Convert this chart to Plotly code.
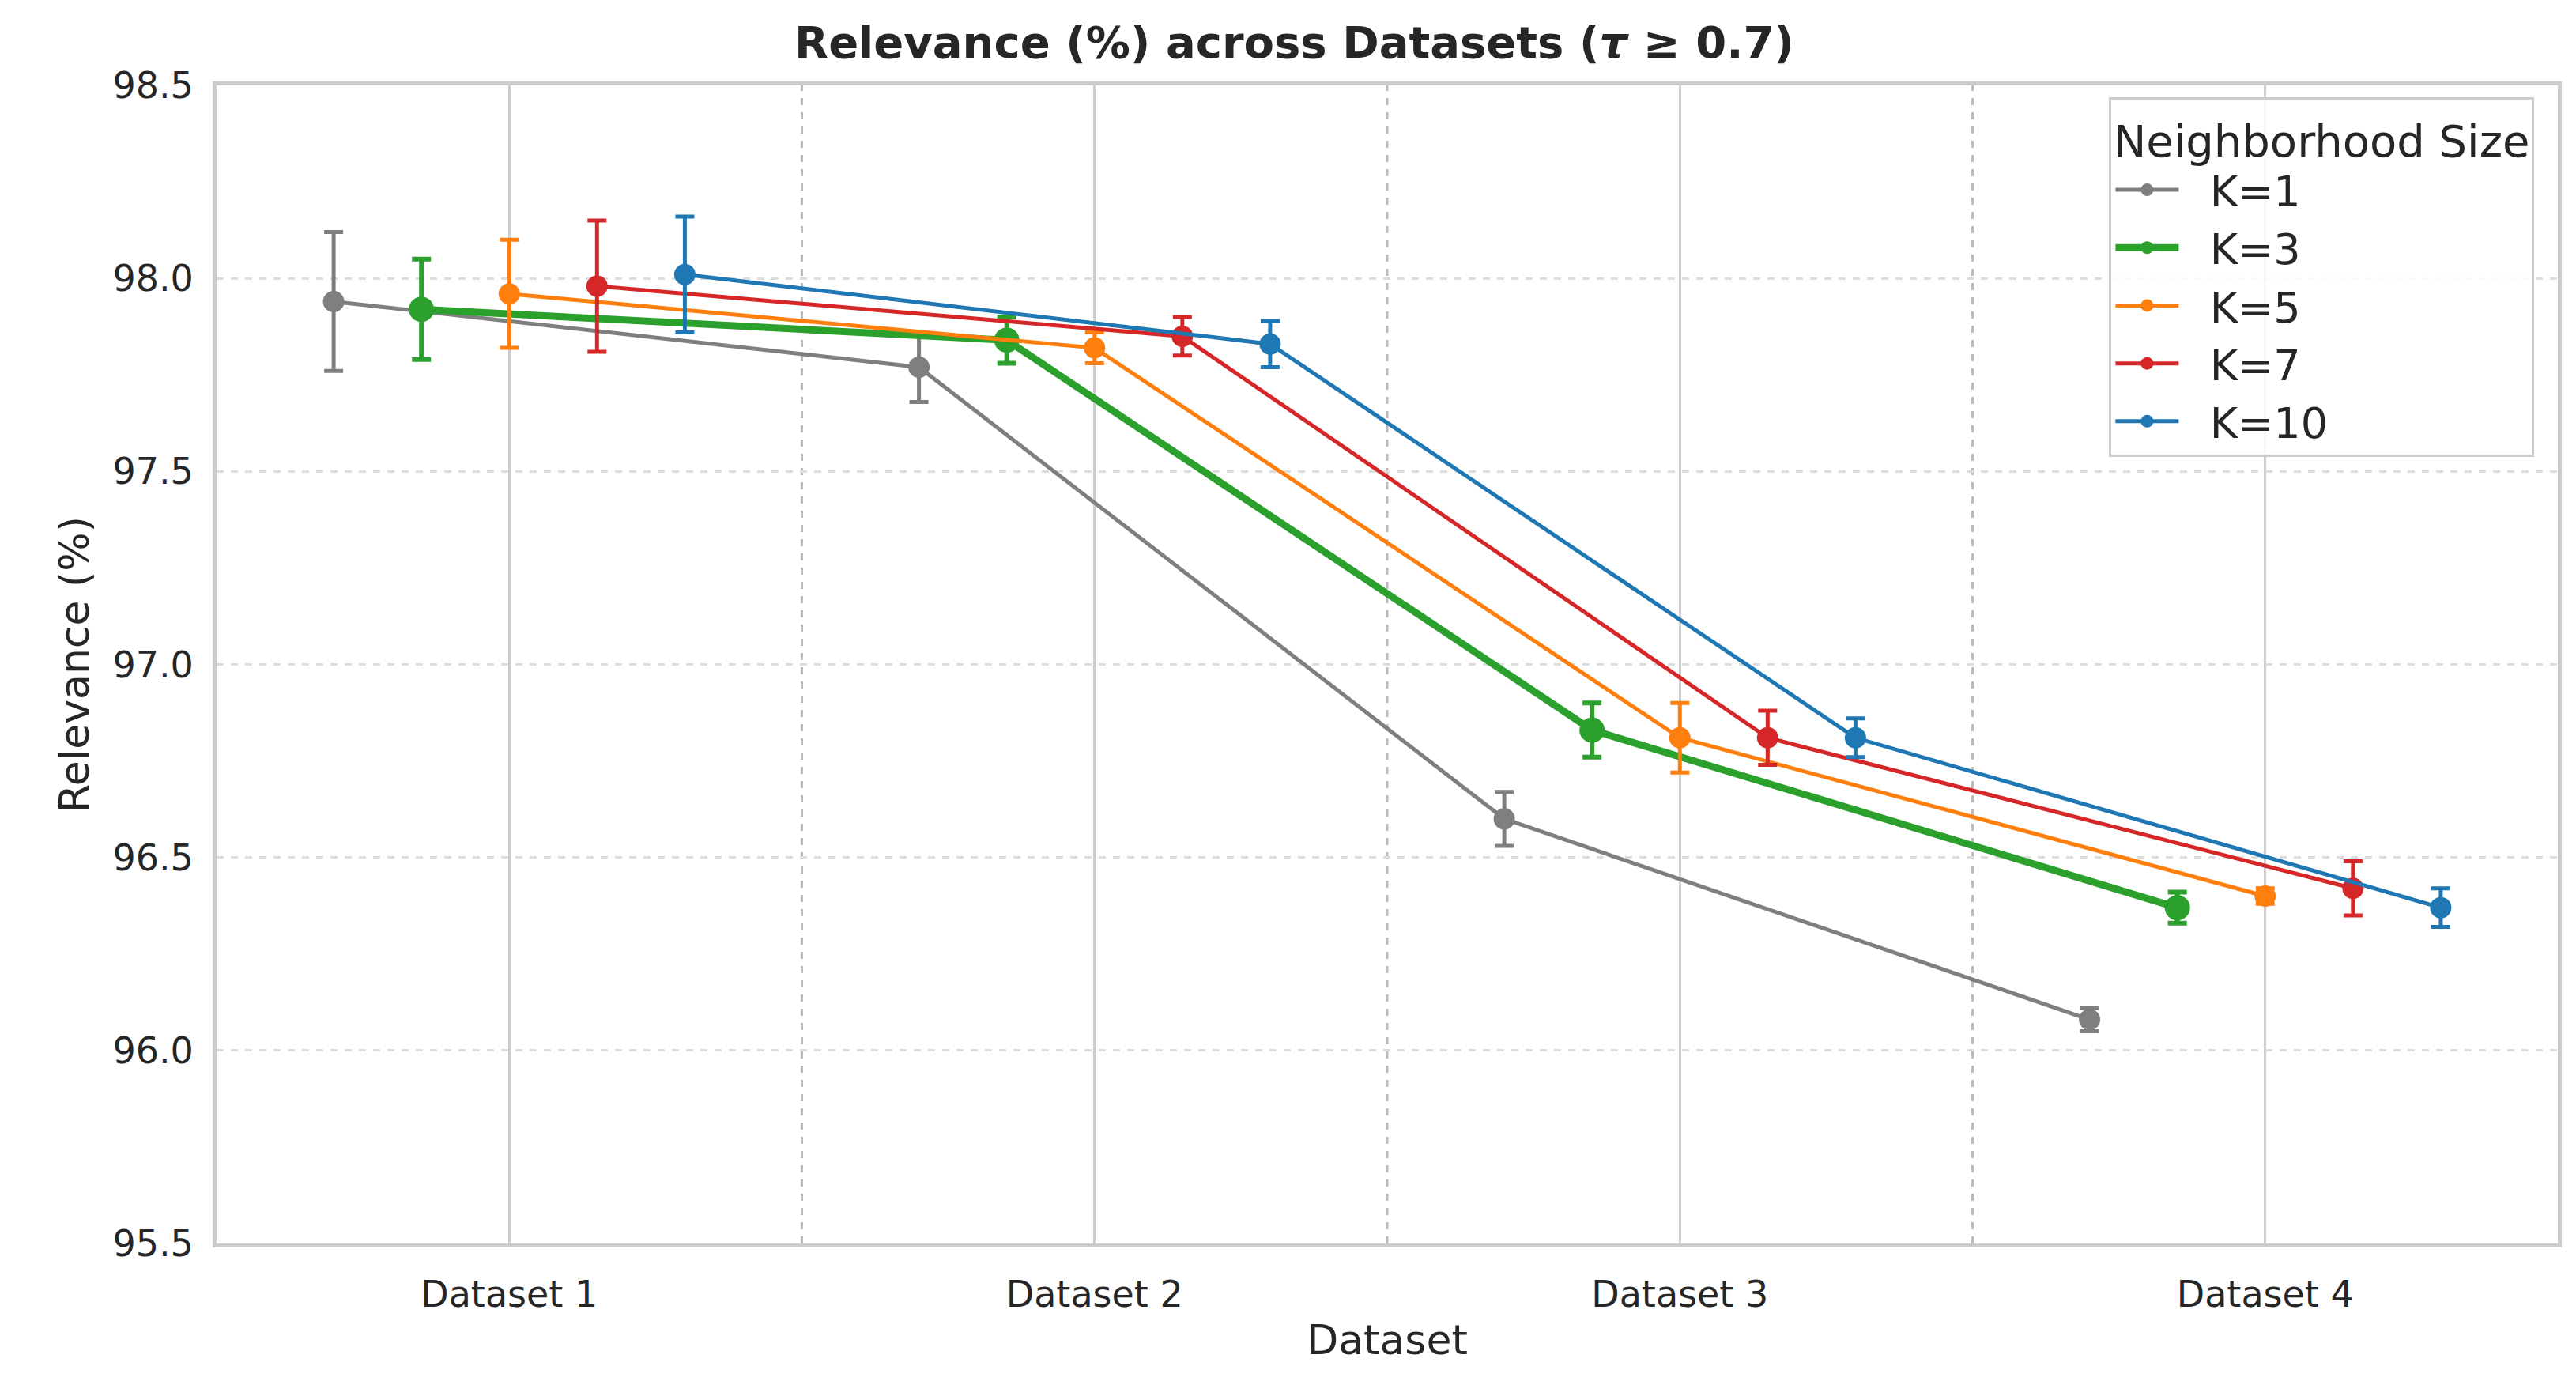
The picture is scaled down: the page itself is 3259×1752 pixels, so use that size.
import plotly.graph_objects as go

datasets = ["Dataset 1", "Dataset 2", "Dataset 3", "Dataset 4"]
k_labels = ["K=1", "K=3", "K=5", "K=7", "K=10"]
colors = ["#7f7f7f", "#2ca02c", "#ff7f0e", "#d62728", "#1f77b4"]
offsets = [-0.3, -0.15, 0.0, 0.15, 0.3]

relevance = [
    [97.94, 97.77, 96.60, 96.08],
    [97.92, 97.84, 96.83, 96.37],
    [97.96, 97.82, 96.81, 96.40],
    [97.98, 97.85, 96.81, 96.42],
    [98.01, 97.83, 96.81, 96.37],
]
errors = [
    [0.18, 0.09, 0.07, 0.03],
    [0.13, 0.06, 0.07, 0.04],
    [0.14, 0.04, 0.09, 0.02],
    [0.17, 0.05, 0.07, 0.07],
    [0.15, 0.06, 0.05, 0.05],
]

fig = go.Figure()
for i, k in enumerate(k_labels):
    bold = k == "K=3"
    fig.add_trace(go.Scatter(
        x=[j + offsets[i] for j in range(len(datasets))],
        y=relevance[i],
        mode="lines+markers",
        name="  " + k,
        line=dict(color=colors[i], width=9 if bold else 5),
        marker=dict(color=colors[i], size=32 if bold else 27),
        error_y=dict(type="data", array=errors[i], color=colors[i],
                     thickness=6 if bold else 5, width=12),
    ))

for b in [0.5, 1.5, 2.5]:
    fig.add_shape(type="line", xref="x", yref="paper", x0=b, x1=b, y0=0, y1=1,
                  line=dict(color="#bbbbbb", width=3, dash="dash"), layer="below")

fig.update_layout(
    width=3259, height=1752,
    plot_bgcolor="white", paper_bgcolor="white",
    font=dict(family="DejaVu Sans", color="#262626", size=46),
    title=dict(text="<b>Relevance (%) across Datasets (<i>τ</i> ≥ 0.7)</b>",
               x=0.5, xanchor="center", y=0.985, font=dict(size=56)),
    margin=dict(l=266, r=31, t=100, b=187),
    legend=dict(title=dict(text="Neighborhood Size", font=dict(size=56)),
                font=dict(size=54), x=0.99, y=0.99, xanchor="right", yanchor="top",
                itemwidth=80,
                bordercolor="#cccccc", borderwidth=3, bgcolor="rgba(255,255,255,0.85)"),
)
fig.update_xaxes(range=[-0.5, 3.5], tickvals=[0, 1, 2, 3], ticktext=datasets,
                 showgrid=True, gridcolor="#cccccc", gridwidth=3,
                 showline=True, linecolor="#cccccc", linewidth=5, mirror=True,
                 zeroline=False, ticks="", ticklabelstandoff=20,
                 title=dict(text="Dataset", font=dict(size=52)))
fig.update_yaxes(range=[95.5, 98.5], dtick=0.5, tickformat=".1f",
                 showgrid=True, gridcolor="#dddddd", gridwidth=3, griddash="dash",
                 showline=True, linecolor="#cccccc", linewidth=5, mirror=True,
                 zeroline=False, ticks="", ticklabelstandoff=15,
                 title=dict(text="Relevance (%)", font=dict(size=52)))

fig.write_html("out.html")
